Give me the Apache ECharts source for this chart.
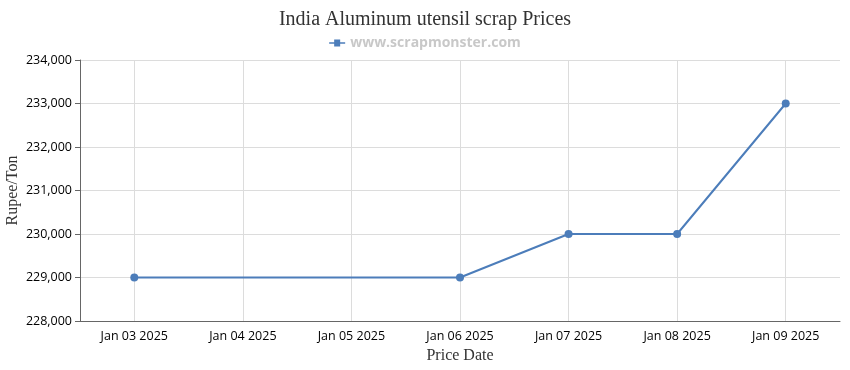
<!DOCTYPE html>
<html><head><meta charset="utf-8">
<script src="https://cdn.jsdelivr.net/npm/echarts@6/dist/echarts.min.js"></script>
<style>html,body{margin:0;padding:0;background:#fff}#c{width:850px;height:370px}</style>
</head><body><div id="c"></div>
<script>
const categories = ['Jan 03 2025','Jan 04 2025','Jan 05 2025','Jan 06 2025','Jan 07 2025','Jan 08 2025','Jan 09 2025'];
const prices = [229000, null, null, 229000, 230000, 230000, 233000];
const yTicks = {min: 228000, max: 234000, interval: 1000};

const chart = echarts.init(document.getElementById('c'));
chart.setOption({
  animation: false,
  title: {
    text: 'India Aluminum utensil scrap Prices',
    left: 'center', top: 5,
    textStyle: {fontFamily: 'Liberation Serif', fontSize: 20, fontWeight: 'normal', color: '#333'}
  },
  legend: {
    top: 31, left: 'center',
    itemWidth: 16, itemHeight: 8,
    data: [{name: 'www.scrapmonster.com', icon: 'path://M0,3.2L5,3.2L5,0.5L11,0.5L11,3.2L16,3.2L16,4.8L11,4.8L11,7.5L5,7.5L5,4.8L0,4.8Z'}],
    textStyle: {fontFamily: 'Open Sans', fontSize: 14, fontWeight: 'bold', color: '#c8c8c8'}
  },
  grid: {left: 80, right: 10, top: 60, bottom: 49, outerBoundsMode: 'none', containLabel: false},
  xAxis: {
    type: 'category',
    data: categories,
    boundaryGap: true,
    name: 'Price Date', nameLocation: 'middle', nameGap: 27,
    nameTextStyle: {fontFamily: 'Liberation Serif', fontSize: 16, color: '#333'},
    axisLine: {lineStyle: {color: '#666'}},
    axisTick: {alignWithLabel: true, length: 5, lineStyle: {color: '#666'}},
    axisLabel: {fontFamily: 'Open Sans', fontSize: 12.5, color: '#000', margin: 9},
    splitLine: {show: true, alignWithLabel: true, lineStyle: {color: '#dcdcdc'}}
  },
  yAxis: {
    type: 'value',
    min: yTicks.min, max: yTicks.max, interval: yTicks.interval,
    name: 'Rupee/Ton', nameLocation: 'middle', nameGap: 59, nameMoveOverlap: false,
    nameTextStyle: {fontFamily: 'Liberation Serif', fontSize: 16, color: '#333'},
    axisLine: {show: true, lineStyle: {color: '#666'}},
    axisTick: {show: true, length: 5, lineStyle: {color: '#666'}},
    axisLabel: {fontFamily: 'Open Sans', fontSize: 12.5, color: '#000', margin: 8,
      formatter: v => v.toLocaleString('en-US')},
    splitLine: {lineStyle: {color: '#dcdcdc'}}
  },
  series: [{
    name: 'www.scrapmonster.com',
    type: 'line',
    data: prices,
    connectNulls: true,
    symbol: 'circle', symbolSize: 8,
    itemStyle: {color: '#4c7dba'},
    lineStyle: {color: '#4c7dba', width: 2}
  }]
});
</script></body></html>
